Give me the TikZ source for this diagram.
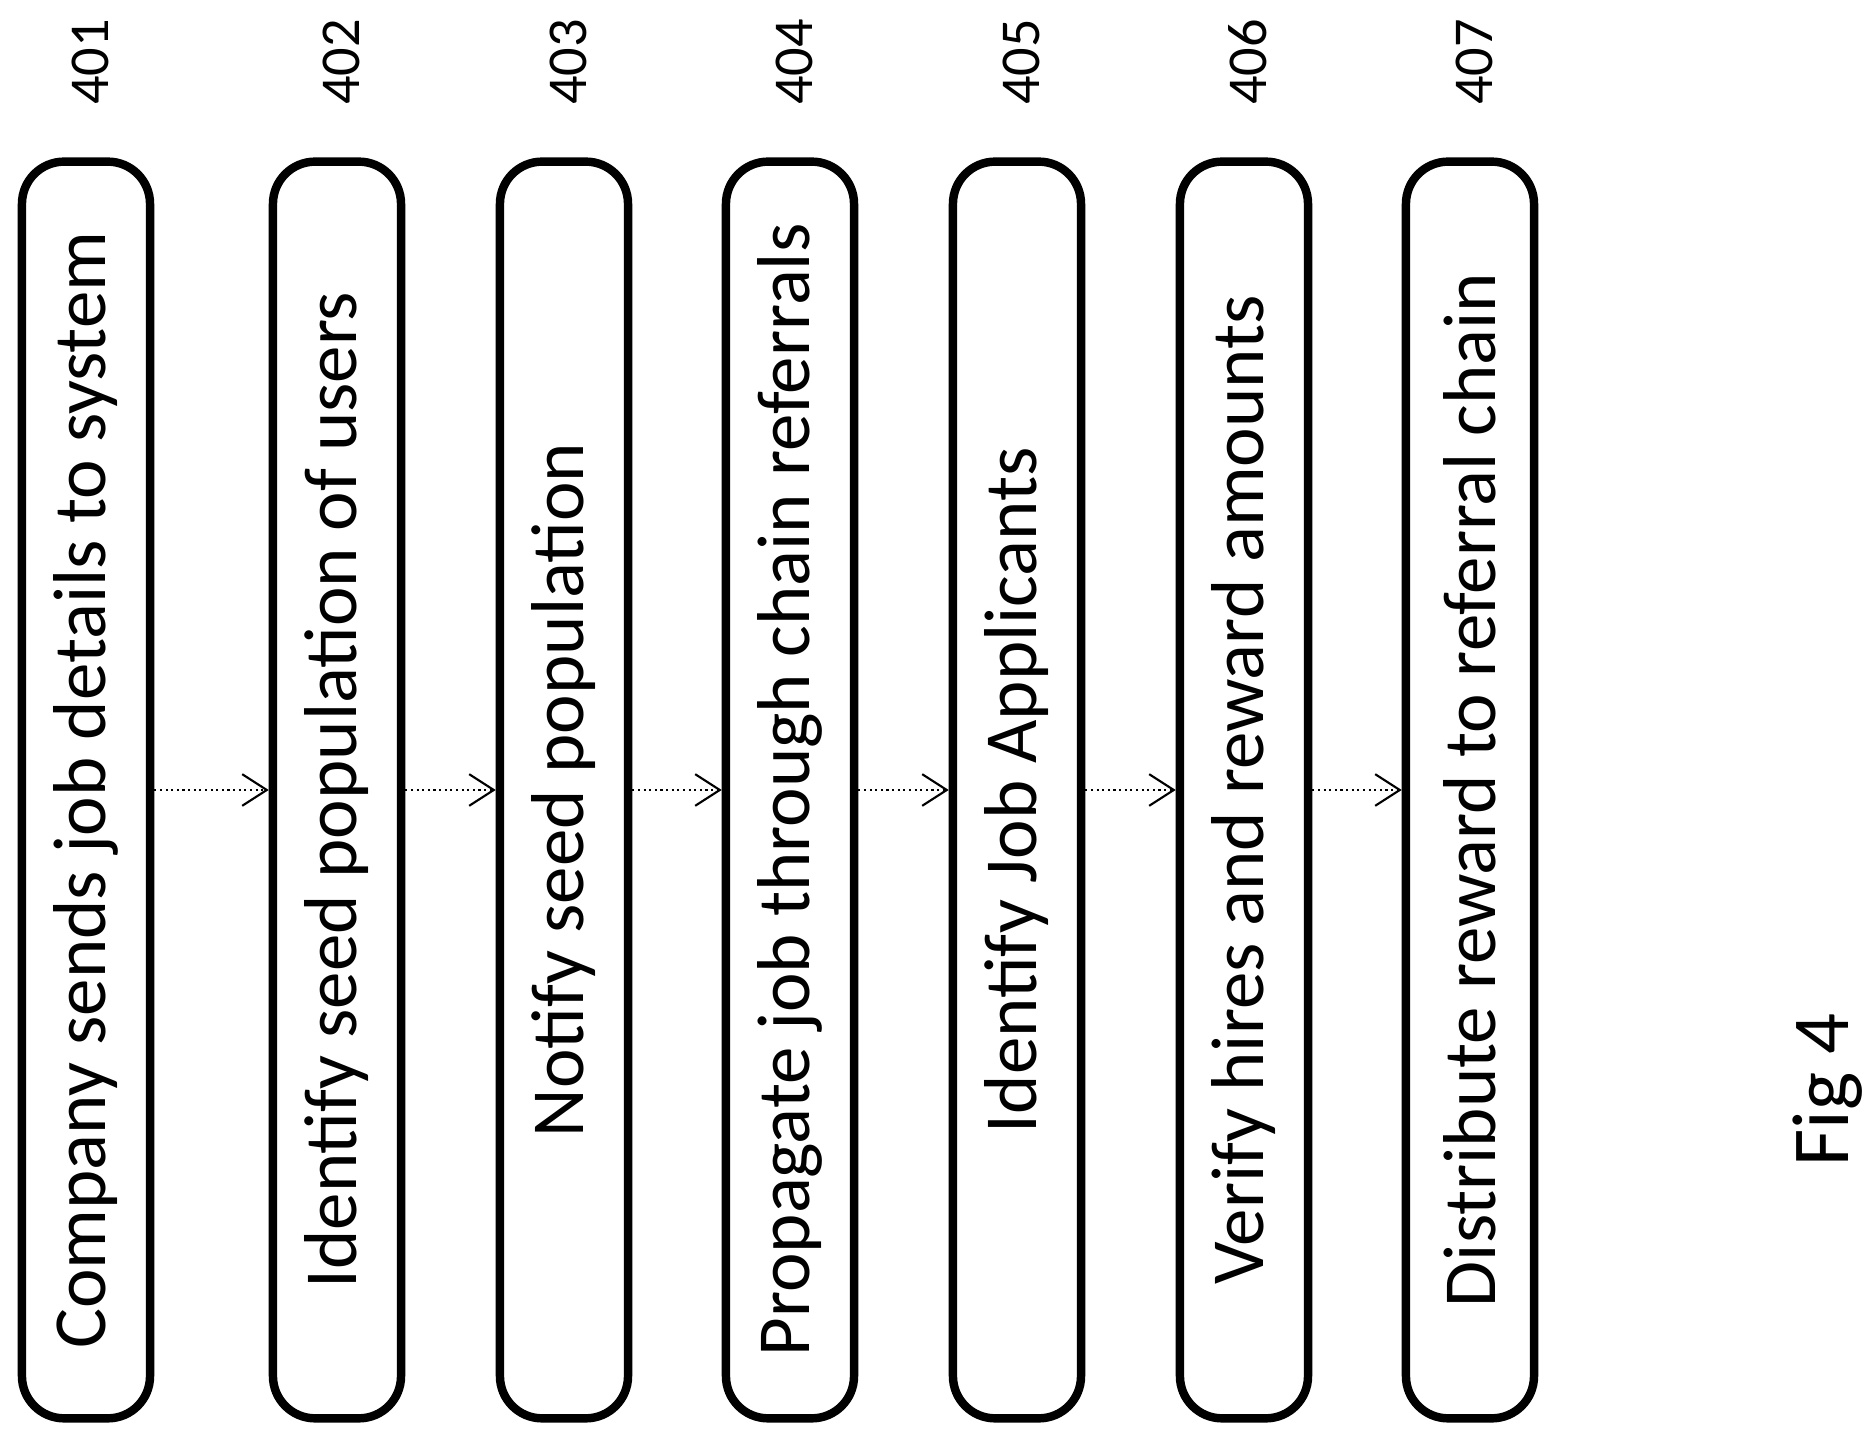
\documentclass[tikz,border=0pt]{standalone}
\usepackage{fontspec}
\setmainfont{Carlito}
\usetikzlibrary{arrows.meta}
\tikzset{
  stepbox/.style={draw, line width=2.4pt, rounded corners=12pt, minimum height=1.28cm, rotate=90, font=\fontsize{21.3}{25}\selectfont, inner sep=0pt},
  flow/.style={densely dotted, line width=0.6pt, -{Straight Barb[length=7pt, width=9pt]}},
  steplabel/.style={rotate=90, font=\fontsize{16}{19}\selectfont}
}
\begin{document}
\begin{tikzpicture}[x=0.01cm, y=-0.01cm]
\useasboundingbox (0,0) rectangle (1868,1437);
% шаги
\foreach \n/\xx/\t in {401/86/Company sends job details to system,
  402/337/Identify seed population of users,
  403/564/Notify seed population,
  404/790/Propagate job through chain referrals,
  405/1017/Identify Job Applicants,
  406/1244/Verify hires and reward amounts,
  407/1470/Distribute reward to referral chain}
{
  \node [stepbox, minimum width=12.56cm] (s\n) at ( \xx, 790 ) {\t};
  \node [steplabel] (l\n) at ( \xx+4, 62 ) {\n};
}
% стрелки
\foreach \a/\b in {401/402, 402/403, 403/404, 404/405, 405/406, 406/407}
  \draw [flow] (s\a.south) -- (s\b.north);
% подпись
\node [rotate=90, font=\fontsize{23}{27}\selectfont] (fig) at ( 1828, 1090 ) {Fig 4};
\end{tikzpicture}
\end{document}
